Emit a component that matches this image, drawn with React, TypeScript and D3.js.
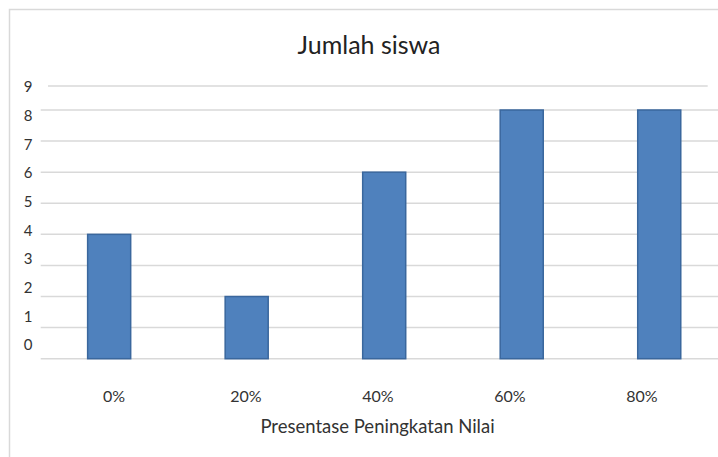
import React, { useEffect, useRef } from 'react';
import * as d3 from 'd3';

const categories = ['0%', '20%', '40%', '60%', '80%'];
const jumlahSiswa = [4, 2, 6, 8, 8];
const yTicks = [0, 1, 2, 3, 4, 5, 6, 7, 8, 9];

const W = 718;
const H = 457;
const FONT = 'Lato, "Open Sans", sans-serif';

const App: React.FC = () => {
  const svgRef = useRef<SVGSVGElement>(null);

  useEffect(() => {
    if (!svgRef.current) return;
    const svg = d3.select(svgRef.current);
    svg.selectAll('*').remove();

    svg.append('rect').attr('width', W).attr('height', H).attr('fill', '#fff');

    // chart area border (only top/left visible in the picture)
    svg.append('path')
      .attr('d', `M9.5,${H}V9.5H${W}`)
      .attr('fill', 'none')
      .attr('stroke', '#d9d9d9')
      .attr('stroke-width', 1.5);

    // gridlines: top one sits a bit lower than the regular spacing
    const yGrid = d3.scaleLinear().domain([0, 8, 9]).range([358.7, 110, 86]);
    // tick labels drift slightly from the gridlines in the original
    const yLabel = d3.scaleLinear().domain([0, 9]).range([345, 87]);

    yTicks.forEach(t => {
      const top = t === 9;
      svg.append('line')
        .attr('x1', top ? 48 : 40.7)
        .attr('x2', top ? 707.7 : W)
        .attr('y1', yGrid(t))
        .attr('y2', yGrid(t))
        .attr('stroke', '#d9d9d9')
        .attr('stroke-width', 1.5);

      svg.append('text')
        .attr('x', 28)
        .attr('y', yLabel(t))
        .attr('dy', '0.35em')
        .attr('text-anchor', 'middle')
        .attr('font-family', FONT)
        .attr('font-size', '15px')
        .attr('fill', '#333')
        .text(String(t));
    });

    const x = d3.scaleBand<string>()
      .domain(categories)
      .range([40.4, 728])
      .paddingInner(0.687)
      .paddingOuter(0.3435);

    svg.append('g')
      .selectAll('rect')
      .data(jumlahSiswa)
      .join('rect')
      .attr('x', (_, i) => x(categories[i])!)
      .attr('y', d => yGrid(d))
      .attr('width', x.bandwidth())
      .attr('height', d => yGrid(0) - yGrid(d))
      .attr('fill', '#4f81bd')
      .attr('stroke', '#3a679d')
      .attr('stroke-width', 1.5);

    const xLabel = d3.scalePoint<string>().domain(categories).range([114, 642]);
    categories.forEach(c => {
      svg.append('text')
        .attr('x', xLabel(c)!)
        .attr('y', 402)
        .attr('text-anchor', 'middle')
        .attr('font-family', FONT)
        .attr('font-size', '16px')
        .attr('fill', '#333')
        .text(c);
    });

    svg.append('text')
      .attr('x', 377.5)
      .attr('y', 433)
      .attr('text-anchor', 'middle')
      .attr('font-family', FONT)
      .attr('font-size', '18.5px')
      .attr('fill', '#333')
      .text('Presentase Peningkatan Nilai');

    svg.append('text')
      .attr('x', 369)
      .attr('y', 54)
      .attr('text-anchor', 'middle')
      .attr('font-family', FONT)
      .attr('font-size', '25px')
      .attr('fill', '#222')
      .text('Jumlah siswa');
  }, []);

  return (
    <svg
      ref={svgRef}
      width={W}
      height={H}
      style={{ position: 'absolute', left: 0, top: 0, display: 'block' }}
    />
  );
};

export default App;
